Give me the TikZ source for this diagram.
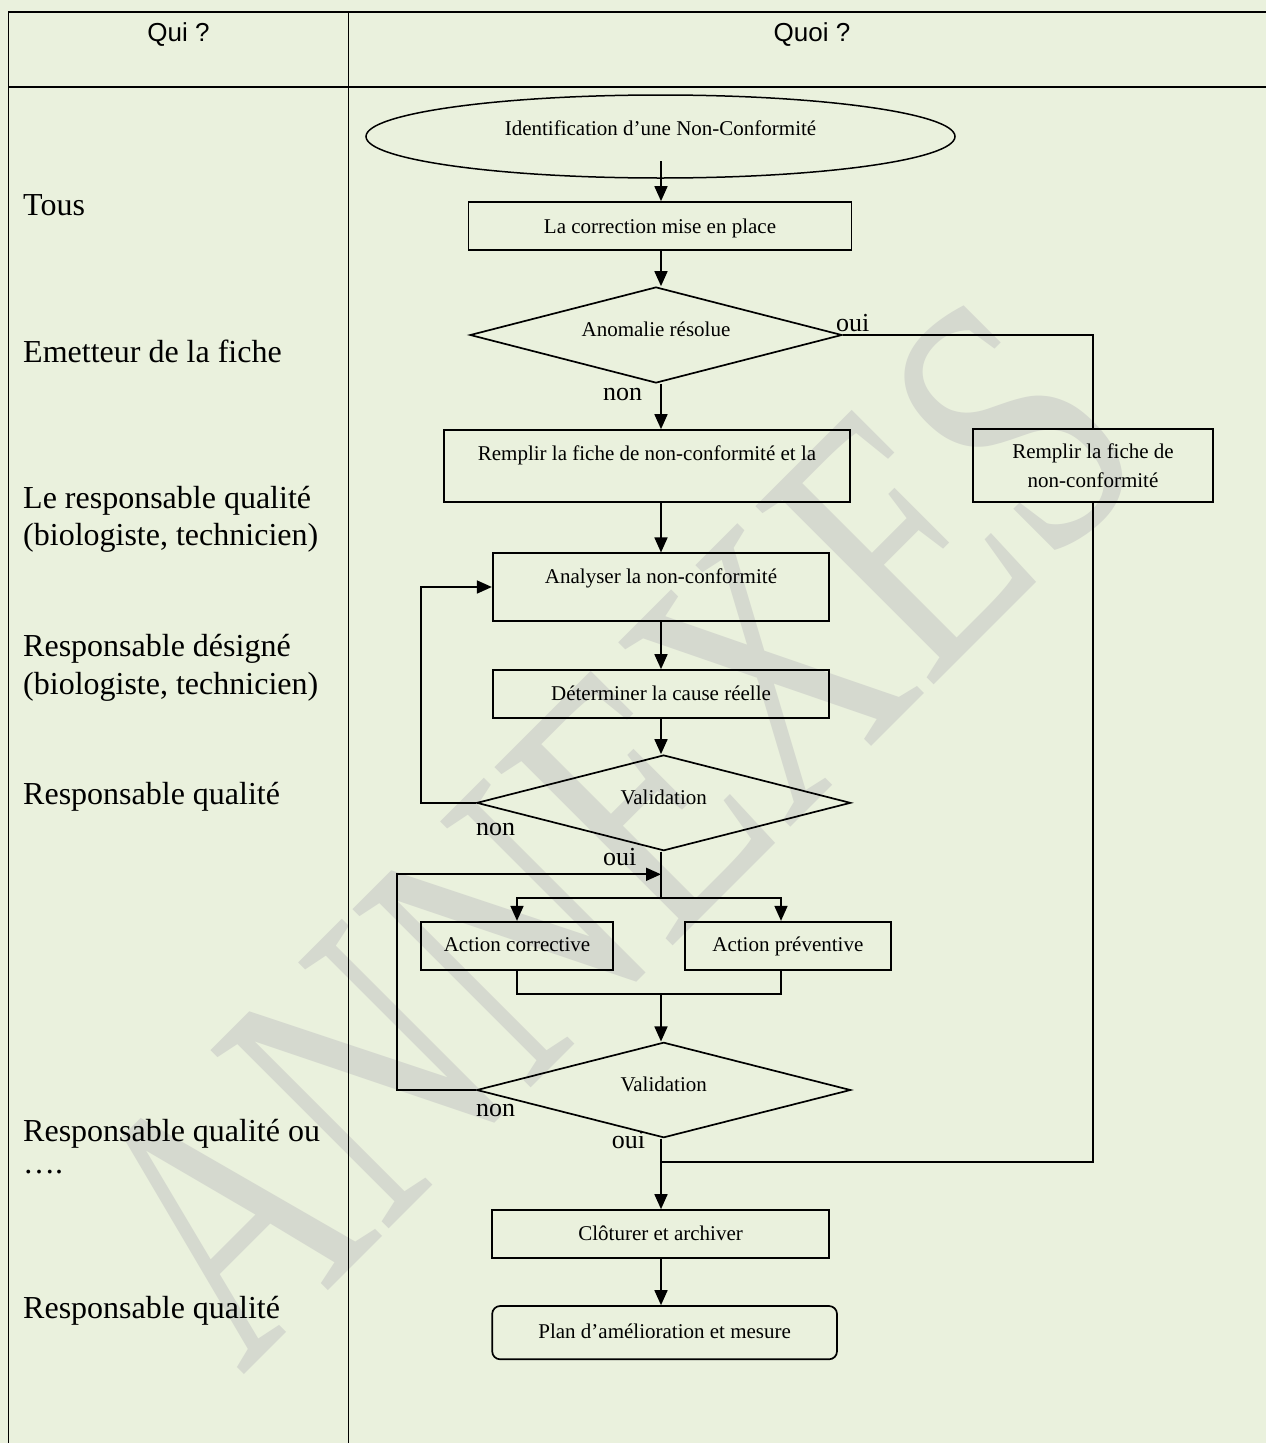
\documentclass[tikz,border=0pt]{standalone}
\usepackage{fontspec}
\setmainfont{Liberation Serif}
\newfontfamily\hdrfont{Liberation Sans}
\usetikzlibrary{arrows.meta,shapes.geometric,calc}
\definecolor{bgc}{HTML}{EAF1DD}
\definecolor{wmc}{RGB}{213,217,207}
\begin{document}
\begin{tikzpicture}[x=1pt,y=-1pt,
  ln/.style={line width=1.7pt},
  arr/.style={ln,-{Triangle[length=15pt,width=13pt]}},
  tbl/.style={line width=1.8pt},
  box/.style={draw,line width=1.7pt,inner sep=0pt,anchor=base,font=\fontsize{21}{29}\selectfont},
  dia/.style={draw,diamond,line width=1.7pt,inner sep=0pt,shape aspect=3.9,font=\fontsize{21}{29}\selectfont,text height=14pt,text depth=10.6pt},
  who/.style={anchor=base west,inner sep=0pt,font=\fontsize{32}{37}\selectfont},
  yn/.style={anchor=base west,inner sep=0pt,font=\fontsize{26}{30}\selectfont},
  hdr/.style={anchor=base,inner sep=0pt,font=\hdrfont\fontsize{26}{30}\selectfont}]
\useasboundingbox (0,0) rectangle (1266,1443);
\fill[bgc] (0,0) rectangle (1266,1443);
% watermark
\node[rotate=45,inner sep=0pt,text=wmc,font=\fontsize{385}{385}\selectfont] (wm) at (611,830) {\scalebox{0.72}[1]{ANNEXES}};
% table
\draw[tbl] (8.5,1443) -- (8.5,12) -- (1266,12);
\draw[tbl] (348.5,12) -- (348.5,1443);
\draw[tbl] (8.5,87) -- (1266,87);
\node[hdr] (h1) at (178.5,41) {Qui ?};
\node[hdr] (h2) at (812,41) {Quoi ?};
% left column
\node[who] (w1) at (23,215) {Tous};
\node[who] (w2) at (23,362.5) {Emetteur de la fiche};
\node[who] (w3a) at (23,508.5) {Le responsable qualité};
\node[who] (w3b) at (23,545.5) {(biologiste, technicien)};
\node[who] (w4a) at (23,656) {Responsable désigné};
\node[who] (w4b) at (23,694) {(biologiste, technicien)};
\node[who] (w5) at (23,804) {Responsable qualité};
\node[who] (w6a) at (23,1141.7) {Responsable qualité ou};
\node[who] (w6b) at (23,1173) {….};
\node[who] (w7) at (23,1318) {Responsable qualité};
% flow nodes
\node[draw,ellipse,line width=1.5pt,inner sep=0pt,minimum width=589pt,minimum height=83pt,font=\fontsize{21}{29}\selectfont,text height=12pt,text depth=15pt] (e1) at (660.5,136.5) {Identification d’une Non-Conformité};
\node[box,minimum width=383pt,text height=31pt,text depth=17pt] (b1) at (660,233) {La correction mise en place};
\node[dia,minimum width=372pt,minimum height=96pt] (d1) at (656,335) {Anomalie résolue};
\node[box,minimum width=406pt,text height=30pt,text depth=41.7pt] (b2) at (647,460) {Remplir la fiche de non-conformité et la};
\node[box,anchor=center,align=center,minimum width=240.6pt,minimum height=72.4pt] (bR) at (1093,465.5) {Remplir la fiche de\\non-conformité};
\node[box,minimum width=336.6pt,text height=30pt,text depth=37.4pt] (b3) at (661,583.3) {Analyser la non-conformité};
\node[box,minimum width=336.6pt,text height=30pt,text depth=17.7pt] (b4) at (661,700) {Déterminer la cause réelle};
\node[dia,minimum width=374pt,minimum height=95.7pt] (d2) at (663.7,802.85) {Validation};
\node[box,minimum width=192.6pt,text height=30pt,text depth=18.3pt] (ac) at (517,951.7) {Action corrective};
\node[box,minimum width=205.7pt,text height=30pt,text depth=18.3pt] (ap) at (787.85,951.7) {Action préventive};
\node[dia,minimum width=374pt,minimum height=95.4pt] (d3) at (663.7,1090) {Validation};
\node[box,minimum width=336.8pt,text height=30.7pt,text depth=17.6pt] (b5) at (660.6,1240.7) {Clôturer et archiver};
\node[box,rounded corners=8pt,minimum width=344.8pt,text height=32.3pt,text depth=21pt] (b6) at (664.6,1338.3) {Plan d’amélioration et mesure};
% helper coordinates
\coordinate (ax) at (661,0);
\coordinate (e0) at (661,161);
\coordinate (L1) at (421,0);
\coordinate (L2) at (396.7,0);
\coordinate (apx) at (781,0);
\coordinate (j0) at (661,874.3);
\coordinate (j1) at (661,897.7);
\coordinate (j2) at (661,994.3);
\coordinate (j3) at (661,1161.7);
% connectors
\draw[arr] (e0) -- (e0 |- b1.north);
\draw[arr] (b1.south -| ax) -- (ax |- d1.north);
\draw[ln] (d1.east) -- (d1.east -| bR.north) -- (bR.north);
\draw[arr] (d1.south -| ax) -- (b2.north -| ax);
\draw[arr] (b2.south -| ax) -- (b3.north -| ax);
\draw[arr] (b3.south -| ax) -- (b4.north -| ax);
\draw[arr] (b4.south -| ax) -- (ax |- d2.north);
\draw[arr] (d2.west) -- (d2.west -| L1) -- (L1 |- b3.west) -- (b3.west);
\draw[ln] (d2.south -| ax) -- (j1);
\draw[arr] (j1) -- (j1 -| ac.north) -- (ac.north);
\draw[arr] (j1) -- (j1 -| apx) -- (apx |- ap.north);
\draw[arr] (d3.west) -- (d3.west -| L2) -- (L2 |- j0) -- (j0);
\draw[ln] (ac.south) -- (ac.south |- j2) -- (apx |- j2) -- (apx |- ap.south);
\draw[arr] (j2) -- (ax |- d3.north);
\draw[ln] (bR.south) -- (bR.south |- j3) -- (j3);
\draw[arr] (d3.south -| ax) -- (b5.north -| ax);
\draw[arr] (b5.south -| ax) -- (b6.north -| ax);
% labels
\node[yn] (oui1) at (836,331.7) {oui};
\node[yn] (non1) at (603,400) {non};
\node[yn] (non2) at (476,835.7) {non};
\node[yn] (oui2) at (603,865) {oui};
\node[yn] (non3) at (476,1116.7) {non};
\node[yn] (oui3) at (611.7,1148.3) {oui};
\end{tikzpicture}
\end{document}
